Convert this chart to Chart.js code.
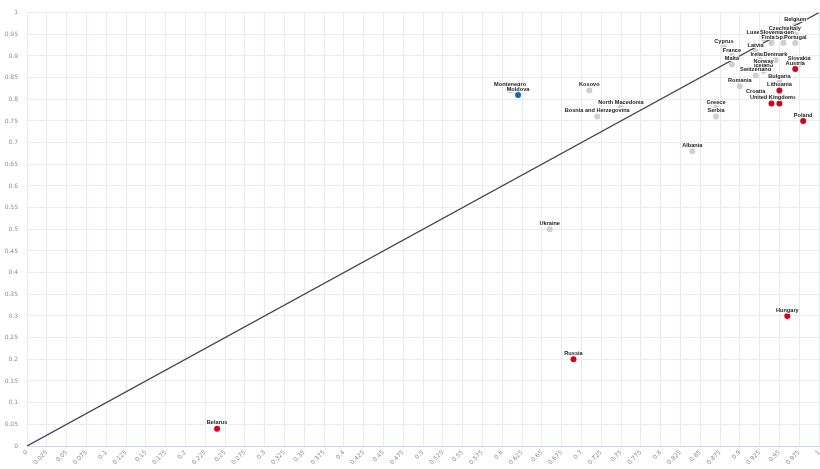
<!DOCTYPE html>
<html>
<head>
<meta charset="utf-8">
<script src="https://cdn.jsdelivr.net/npm/chart.js@4.4.1/dist/chart.umd.min.js"></script>
<style>
  html, body { margin: 0; padding: 0; background: #fff; overflow: hidden; }
  #wrap { width: 823px; height: 469px; position: relative; }
</style>
</head>
<body>
<div id="wrap"><canvas id="chart"></canvas></div>
<script>
// country shares (x, y)
const countries = [
  "Belarus", "Russia", "Hungary", "Poland", "Ukraine", "Albania",
  "Montenegro", "Moldova", "Kosovo", "North Macedonia", "Bosnia and Herzegovina",
  "Greece", "Serbia", "Croatia", "Netherlands", "United Kingdom", "Lithuania",
  "Romania", "Bulgaria", "Switzerland", "Iceland", "Norway", "Austria", "Slovakia",
  "Ireland", "Denmark", "Malta", "France", "Cyprus", "Latvia",
  "Finland", "Spain", "Portugal", "Luxembourg", "Sweden", "Slovenia",
  "Czechia", "Italy", "Belgium"
];
const xValues = [
  0.24, 0.69, 0.96, 0.98, 0.66, 0.84,
  0.61, 0.62, 0.71, 0.75, 0.72,
  0.87, 0.87, 0.92, 0.95, 0.94, 0.95,
  0.90, 0.95, 0.92, 0.93, 0.93, 0.97, 0.975,
  0.925, 0.945, 0.89, 0.89, 0.88, 0.92,
  0.94, 0.955, 0.97, 0.93, 0.955, 0.94,
  0.95, 0.97, 0.97
];
const yValues = [
  0.04, 0.20, 0.30, 0.75, 0.50, 0.68,
  0.82, 0.81, 0.82, 0.78, 0.76,
  0.78, 0.76, 0.805, 0.79, 0.79, 0.82,
  0.83, 0.84, 0.855, 0.865, 0.875, 0.87, 0.88,
  0.89, 0.89, 0.88, 0.90, 0.92, 0.91,
  0.93, 0.93, 0.93, 0.94, 0.94, 0.94,
  0.95, 0.95, 0.97
];
const redCountries = ["Belarus", "Russia", "Hungary", "Poland", "Lithuania", "Austria", "United Kingdom", "Netherlands"];
const blueCountries = ["Moldova"];
const xTickStep = 0.025;
const yTickStep = 0.05;

const pointColors = countries.map(c =>
  redCountries.includes(c) ? "#d8001f" : blueCountries.includes(c) ? "#1a68b8" : "#cfcfcf");

const fmt = v => String(+v.toFixed(3));

const labelPlugin = {
  id: "countryLabels",
  afterDatasetsDraw(chart) {
    const ctx = chart.ctx;
    const meta = chart.getDatasetMeta(1);
    ctx.save();
    ctx.font = "bold 5.6px 'Liberation Sans', Arial, sans-serif";
    ctx.textAlign = "center";
    ctx.textBaseline = "bottom";
    ctx.lineJoin = "round";
    meta.data.forEach((pt, i) => {
      const name = countries[i];
      ctx.strokeStyle = "rgba(255,255,255,0.9)";
      ctx.lineWidth = 2;
      ctx.strokeText(name, pt.x, pt.y - 3);
      ctx.fillStyle = "#222";
      ctx.fillText(name, pt.x, pt.y - 3);
    });
    ctx.restore();
  }
};

new Chart(document.getElementById("chart"), {
  type: "scatter",
  data: {
    datasets: [
      {
        type: "line",
        data: [{ x: 0, y: 0 }, { x: 1, y: 1 }],
        borderColor: "#444",
        borderWidth: 1.3,
        pointRadius: 0,
        fill: false
      },
      {
        data: countries.map((c, i) => ({ x: xValues[i], y: yValues[i] })),
        backgroundColor: pointColors,
        borderWidth: 0,
        pointRadius: 3
      }
    ]
  },
  options: {
    responsive: true,
    maintainAspectRatio: false,
    animation: false,
    layout: { padding: { top: 8, right: 0, left: 0, bottom: 0 } },
    plugins: { legend: { display: false }, tooltip: { enabled: false } },
    scales: {
      x: {
        type: "linear",
        min: 0,
        max: 1,
        ticks: {
          stepSize: xTickStep,
          autoSkip: false,
          maxRotation: 45,
          minRotation: 45,
          color: "#8c8c8c",
          font: { size: 6, family: "'DejaVu Sans', sans-serif" },
          padding: 3,
          callback: fmt
        },
        grid: { color: "#e7e9f4", drawTicks: false },
        border: { color: "#ccd6eb" },
        afterFit: s => { s.height = 23; s.paddingRight = 0; s.paddingLeft = 0; }
      },
      y: {
        type: "linear",
        min: 0,
        max: 1,
        ticks: {
          stepSize: yTickStep,
          color: "#8c8c8c",
          font: { size: 6, family: "'DejaVu Sans', sans-serif" },
          padding: 9,
          callback: fmt
        },
        grid: { color: "#ececec", drawTicks: false },
        border: { display: false },
        afterFit: s => { s.width = 27; }
      }
    }
  },
  plugins: [labelPlugin]
});
</script>
</body>
</html>
